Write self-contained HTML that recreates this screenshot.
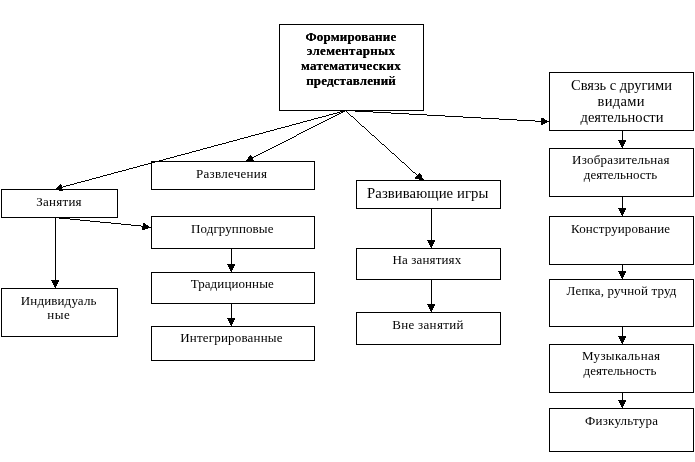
<!DOCTYPE html>
<html><head><meta charset="utf-8"><style>
html,body{margin:0;padding:0;background:#fff;}
body{width:695px;height:462px;overflow:hidden;position:relative;}
svg{position:absolute;left:0;top:0;will-change:transform;}
text{font-family:"Liberation Serif",serif;fill:#000;}
</style></head><body>
<svg width="695" height="462" viewBox="0 0 695 462">
<defs><filter id="th" x="0" y="0" width="100%" height="100%" color-interpolation-filters="sRGB"><feComponentTransfer><feFuncA type="table" tableValues="0 1"/></feComponentTransfer></filter><filter id="thb" x="0" y="0" width="100%" height="100%" color-interpolation-filters="sRGB"><feComponentTransfer><feFuncA type="table" tableValues="0 0.55 0.9 1"/></feComponentTransfer></filter></defs>

<rect x="279.5" y="24.5" width="144" height="86" fill="#fff" stroke="#000" stroke-width="1" shape-rendering="crispEdges"/>
<rect x="549.5" y="72.5" width="144" height="58" fill="#fff" stroke="#000" stroke-width="1" shape-rendering="crispEdges"/>
<rect x="549.5" y="148.5" width="144" height="48" fill="#fff" stroke="#000" stroke-width="1" shape-rendering="crispEdges"/>
<rect x="549.5" y="216.5" width="144" height="48" fill="#fff" stroke="#000" stroke-width="1" shape-rendering="crispEdges"/>
<rect x="549.5" y="279.5" width="144" height="47" fill="#fff" stroke="#000" stroke-width="1" shape-rendering="crispEdges"/>
<rect x="549.5" y="344.5" width="144" height="48" fill="#fff" stroke="#000" stroke-width="1" shape-rendering="crispEdges"/>
<rect x="549.5" y="408.5" width="144" height="43" fill="#fff" stroke="#000" stroke-width="1" shape-rendering="crispEdges"/>
<rect x="151.5" y="161.5" width="163" height="28" fill="#fff" stroke="#000" stroke-width="1" shape-rendering="crispEdges"/>
<rect x="1.5" y="189.5" width="116" height="28" fill="#fff" stroke="#000" stroke-width="1" shape-rendering="crispEdges"/>
<rect x="151.5" y="216.5" width="163" height="32" fill="#fff" stroke="#000" stroke-width="1" shape-rendering="crispEdges"/>
<rect x="151.5" y="272.5" width="163" height="31" fill="#fff" stroke="#000" stroke-width="1" shape-rendering="crispEdges"/>
<rect x="151.5" y="326.5" width="163" height="34" fill="#fff" stroke="#000" stroke-width="1" shape-rendering="crispEdges"/>
<rect x="1.5" y="288.5" width="116" height="48" fill="#fff" stroke="#000" stroke-width="1" shape-rendering="crispEdges"/>
<rect x="356.5" y="180.5" width="144" height="28" fill="#fff" stroke="#000" stroke-width="1" shape-rendering="crispEdges"/>
<rect x="356.5" y="248.5" width="144" height="31" fill="#fff" stroke="#000" stroke-width="1" shape-rendering="crispEdges"/>
<rect x="356.5" y="312.5" width="144" height="32" fill="#fff" stroke="#000" stroke-width="1" shape-rendering="crispEdges"/>
<path d="M63 186h1v1h-1zM64 186h1v1h-1zM65 186h1v1h-1zM66 185h1v1h-1zM67 185h1v1h-1zM68 185h1v1h-1zM69 185h1v1h-1zM70 184h1v1h-1zM71 184h1v1h-1zM72 184h1v1h-1zM73 184h1v1h-1zM74 183h1v1h-1zM75 183h1v1h-1zM76 183h1v1h-1zM77 182h1v1h-1zM78 182h1v1h-1zM79 182h1v1h-1zM80 182h1v1h-1zM81 181h1v1h-1zM82 181h1v1h-1zM83 181h1v1h-1zM84 181h1v1h-1zM85 180h1v1h-1zM86 180h1v1h-1zM87 180h1v1h-1zM88 180h1v1h-1zM89 179h1v1h-1zM90 179h1v1h-1zM91 179h1v1h-1zM92 178h1v1h-1zM93 178h1v1h-1zM94 178h1v1h-1zM95 178h1v1h-1zM96 177h1v1h-1zM97 177h1v1h-1zM98 177h1v1h-1zM99 177h1v1h-1zM100 176h1v1h-1zM101 176h1v1h-1zM102 176h1v1h-1zM103 175h1v1h-1zM104 175h1v1h-1zM105 175h1v1h-1zM106 175h1v1h-1zM107 174h1v1h-1zM108 174h1v1h-1zM109 174h1v1h-1zM110 174h1v1h-1zM111 173h1v1h-1zM112 173h1v1h-1zM113 173h1v1h-1zM114 172h1v1h-1zM115 172h1v1h-1zM116 172h1v1h-1zM117 172h1v1h-1zM118 171h1v1h-1zM119 171h1v1h-1zM120 171h1v1h-1zM121 171h1v1h-1zM122 170h1v1h-1zM123 170h1v1h-1zM124 170h1v1h-1zM125 170h1v1h-1zM126 169h1v1h-1zM127 169h1v1h-1zM128 169h1v1h-1zM129 168h1v1h-1zM130 168h1v1h-1zM131 168h1v1h-1zM132 168h1v1h-1zM133 167h1v1h-1zM134 167h1v1h-1zM135 167h1v1h-1zM136 167h1v1h-1zM137 166h1v1h-1zM138 166h1v1h-1zM139 166h1v1h-1zM140 165h1v1h-1zM141 165h1v1h-1zM142 165h1v1h-1zM143 165h1v1h-1zM144 164h1v1h-1zM145 164h1v1h-1zM146 164h1v1h-1zM147 164h1v1h-1zM148 163h1v1h-1zM149 163h1v1h-1zM150 163h1v1h-1zM151 163h1v1h-1zM152 162h1v1h-1zM153 162h1v1h-1zM154 162h1v1h-1zM155 161h1v1h-1zM156 161h1v1h-1zM157 161h1v1h-1zM158 161h1v1h-1zM159 160h1v1h-1zM160 160h1v1h-1zM161 160h1v1h-1zM162 160h1v1h-1zM163 159h1v1h-1zM164 159h1v1h-1zM165 159h1v1h-1zM166 158h1v1h-1zM167 158h1v1h-1zM168 158h1v1h-1zM169 158h1v1h-1zM170 157h1v1h-1zM171 157h1v1h-1zM172 157h1v1h-1zM173 157h1v1h-1zM174 156h1v1h-1zM175 156h1v1h-1zM176 156h1v1h-1zM177 155h1v1h-1zM178 155h1v1h-1zM179 155h1v1h-1zM180 155h1v1h-1zM181 154h1v1h-1zM182 154h1v1h-1zM183 154h1v1h-1zM184 154h1v1h-1zM185 153h1v1h-1zM186 153h1v1h-1zM187 153h1v1h-1zM188 153h1v1h-1zM189 152h1v1h-1zM190 152h1v1h-1zM191 152h1v1h-1zM192 151h1v1h-1zM193 151h1v1h-1zM194 151h1v1h-1zM195 151h1v1h-1zM196 150h1v1h-1zM197 150h1v1h-1zM198 150h1v1h-1zM199 150h1v1h-1zM200 149h1v1h-1zM201 149h1v1h-1zM202 149h1v1h-1zM203 148h1v1h-1zM204 148h1v1h-1zM205 148h1v1h-1zM206 148h1v1h-1zM207 147h1v1h-1zM208 147h1v1h-1zM209 147h1v1h-1zM210 147h1v1h-1zM211 146h1v1h-1zM212 146h1v1h-1zM213 146h1v1h-1zM214 145h1v1h-1zM215 145h1v1h-1zM216 145h1v1h-1zM217 145h1v1h-1zM218 144h1v1h-1zM219 144h1v1h-1zM220 144h1v1h-1zM221 144h1v1h-1zM222 143h1v1h-1zM223 143h1v1h-1zM224 143h1v1h-1zM225 143h1v1h-1zM226 142h1v1h-1zM227 142h1v1h-1zM228 142h1v1h-1zM229 141h1v1h-1zM230 141h1v1h-1zM231 141h1v1h-1zM232 141h1v1h-1zM233 140h1v1h-1zM234 140h1v1h-1zM235 140h1v1h-1zM236 140h1v1h-1zM237 139h1v1h-1zM238 139h1v1h-1zM239 139h1v1h-1zM240 138h1v1h-1zM241 138h1v1h-1zM242 138h1v1h-1zM243 138h1v1h-1zM244 137h1v1h-1zM245 137h1v1h-1zM246 137h1v1h-1zM247 137h1v1h-1zM248 136h1v1h-1zM249 136h1v1h-1zM250 136h1v1h-1zM251 135h1v1h-1zM252 135h1v1h-1zM253 135h1v1h-1zM254 135h1v1h-1zM255 134h1v1h-1zM256 134h1v1h-1zM257 134h1v1h-1zM258 134h1v1h-1zM259 133h1v1h-1zM260 133h1v1h-1zM261 133h1v1h-1zM262 133h1v1h-1zM263 132h1v1h-1zM264 132h1v1h-1zM265 132h1v1h-1zM266 131h1v1h-1zM267 131h1v1h-1zM268 131h1v1h-1zM269 131h1v1h-1zM270 130h1v1h-1zM271 130h1v1h-1zM272 130h1v1h-1zM273 130h1v1h-1zM274 129h1v1h-1zM275 129h1v1h-1zM276 129h1v1h-1zM277 128h1v1h-1zM278 128h1v1h-1zM279 128h1v1h-1zM280 128h1v1h-1zM281 127h1v1h-1zM282 127h1v1h-1zM283 127h1v1h-1zM284 127h1v1h-1zM285 126h1v1h-1zM286 126h1v1h-1zM287 126h1v1h-1zM288 126h1v1h-1zM289 125h1v1h-1zM290 125h1v1h-1zM291 125h1v1h-1zM292 124h1v1h-1zM293 124h1v1h-1zM294 124h1v1h-1zM295 124h1v1h-1zM296 123h1v1h-1zM297 123h1v1h-1zM298 123h1v1h-1zM299 123h1v1h-1zM300 122h1v1h-1zM301 122h1v1h-1zM302 122h1v1h-1zM303 121h1v1h-1zM304 121h1v1h-1zM305 121h1v1h-1zM306 121h1v1h-1zM307 120h1v1h-1zM308 120h1v1h-1zM309 120h1v1h-1zM310 120h1v1h-1zM311 119h1v1h-1zM312 119h1v1h-1zM313 119h1v1h-1zM314 118h1v1h-1zM315 118h1v1h-1zM316 118h1v1h-1zM317 118h1v1h-1zM318 117h1v1h-1zM319 117h1v1h-1zM320 117h1v1h-1zM321 117h1v1h-1zM322 116h1v1h-1zM323 116h1v1h-1zM324 116h1v1h-1zM325 116h1v1h-1zM326 115h1v1h-1zM327 115h1v1h-1zM328 115h1v1h-1zM329 114h1v1h-1zM330 114h1v1h-1zM331 114h1v1h-1zM332 114h1v1h-1zM333 113h1v1h-1zM334 113h1v1h-1zM335 113h1v1h-1zM336 113h1v1h-1zM337 112h1v1h-1zM338 112h1v1h-1zM339 112h1v1h-1zM340 111h1v1h-1zM341 111h1v1h-1zM342 111h1v1h-1zM343 111h1v1h-1zM344 110h1v1h-1zM345 110h1v1h-1z" fill="#000" shape-rendering="crispEdges"/>
<path d="M60 184h1v1h-1zM59 185h3v1h-3zM58 186h4v1h-4zM57 187h6v1h-6zM56 188h6v1h-6zM59 190h4v1h-4z" fill="#000" shape-rendering="crispEdges"/>
<path d="M252 157h1v1h-1zM253 157h1v1h-1zM254 156h1v1h-1zM255 156h1v1h-1zM256 155h1v1h-1zM257 155h1v1h-1zM258 154h1v1h-1zM259 154h1v1h-1zM260 153h1v1h-1zM261 153h1v1h-1zM262 152h1v1h-1zM263 152h1v1h-1zM264 151h1v1h-1zM265 151h1v1h-1zM266 150h1v1h-1zM267 150h1v1h-1zM268 149h1v1h-1zM269 149h1v1h-1zM270 148h1v1h-1zM271 148h1v1h-1zM272 147h1v1h-1zM273 147h1v1h-1zM274 146h1v1h-1zM275 146h1v1h-1zM276 145h1v1h-1zM277 145h1v1h-1zM278 144h1v1h-1zM279 144h1v1h-1zM280 143h1v1h-1zM281 143h1v1h-1zM282 142h1v1h-1zM283 142h1v1h-1zM284 141h1v1h-1zM285 141h1v1h-1zM286 140h1v1h-1zM287 140h1v1h-1zM288 139h1v1h-1zM289 139h1v1h-1zM290 138h1v1h-1zM291 138h1v1h-1zM292 137h1v1h-1zM293 137h1v1h-1zM294 136h1v1h-1zM295 136h1v1h-1zM296 135h1v1h-1zM297 134h1v1h-1zM298 134h1v1h-1zM299 133h1v1h-1zM300 133h1v1h-1zM301 132h1v1h-1zM302 132h1v1h-1zM303 131h1v1h-1zM304 131h1v1h-1zM305 130h1v1h-1zM306 130h1v1h-1zM307 129h1v1h-1zM308 129h1v1h-1zM309 128h1v1h-1zM310 128h1v1h-1zM311 127h1v1h-1zM312 127h1v1h-1zM313 126h1v1h-1zM314 126h1v1h-1zM315 125h1v1h-1zM316 125h1v1h-1zM317 124h1v1h-1zM318 124h1v1h-1zM319 123h1v1h-1zM320 123h1v1h-1zM321 122h1v1h-1zM322 122h1v1h-1zM323 121h1v1h-1zM324 121h1v1h-1zM325 120h1v1h-1zM326 120h1v1h-1zM327 119h1v1h-1zM328 119h1v1h-1zM329 118h1v1h-1zM330 118h1v1h-1zM331 117h1v1h-1zM332 117h1v1h-1zM333 116h1v1h-1zM334 116h1v1h-1zM335 115h1v1h-1zM336 115h1v1h-1zM337 114h1v1h-1zM338 114h1v1h-1zM339 113h1v1h-1zM340 113h1v1h-1zM341 112h1v1h-1zM342 112h1v1h-1zM343 111h1v1h-1zM344 111h1v1h-1zM345 110h1v1h-1z" fill="#000" shape-rendering="crispEdges"/>
<path d="M250 155h1v1h-1zM249 156h3v1h-3zM248 157h6v1h-6zM248 158h5v1h-5zM247 159h6v1h-6zM246 160h8v1h-8z" fill="#000" shape-rendering="crispEdges"/>
<path d="M345 110h1v1h-1zM346 111h1v1h-1zM347 112h1v1h-1zM348 113h1v1h-1zM349 114h1v1h-1zM350 115h1v1h-1zM351 116h1v1h-1zM352 116h1v1h-1zM353 117h1v1h-1zM354 118h1v1h-1zM355 119h1v1h-1zM356 120h1v1h-1zM357 121h1v1h-1zM358 122h1v1h-1zM359 123h1v1h-1zM360 124h1v1h-1zM361 125h1v1h-1zM362 126h1v1h-1zM363 126h1v1h-1zM364 127h1v1h-1zM365 128h1v1h-1zM366 129h1v1h-1zM367 130h1v1h-1zM368 131h1v1h-1zM369 132h1v1h-1zM370 133h1v1h-1zM371 134h1v1h-1zM372 135h1v1h-1zM373 135h1v1h-1zM374 136h1v1h-1zM375 137h1v1h-1zM376 138h1v1h-1zM377 139h1v1h-1zM378 140h1v1h-1zM379 141h1v1h-1zM380 142h1v1h-1zM381 143h1v1h-1zM382 144h1v1h-1zM383 144h1v1h-1zM384 145h1v1h-1zM385 146h1v1h-1zM386 147h1v1h-1zM387 148h1v1h-1zM388 149h1v1h-1zM389 150h1v1h-1zM390 151h1v1h-1zM391 152h1v1h-1zM392 153h1v1h-1zM393 153h1v1h-1zM394 154h1v1h-1zM395 155h1v1h-1zM396 156h1v1h-1zM397 157h1v1h-1zM398 158h1v1h-1zM399 159h1v1h-1zM400 160h1v1h-1zM401 161h1v1h-1zM402 162h1v1h-1zM403 162h1v1h-1zM404 163h1v1h-1zM405 164h1v1h-1zM406 165h1v1h-1zM407 166h1v1h-1zM408 167h1v1h-1zM409 168h1v1h-1zM410 169h1v1h-1zM411 170h1v1h-1zM412 171h1v1h-1zM413 172h1v1h-1zM414 172h1v1h-1zM415 173h1v1h-1zM416 174h1v1h-1z" fill="#000" shape-rendering="crispEdges"/>
<path d="M419 173h1v1h-1zM418 174h3v1h-3zM417 175h5v1h-5zM416 176h6v1h-6zM415 177h7v1h-7zM415 178h8v1h-8zM419 179h5v1h-5z" fill="#000" shape-rendering="crispEdges"/>
<path d="M347 110h1v1h-1zM348 110h1v1h-1zM349 110h1v1h-1zM350 110h1v1h-1zM351 110h1v1h-1zM352 110h1v1h-1zM353 110h1v1h-1zM354 110h1v1h-1zM355 111h1v1h-1zM356 111h1v1h-1zM357 111h1v1h-1zM358 111h1v1h-1zM359 111h1v1h-1zM360 111h1v1h-1zM361 111h1v1h-1zM362 111h1v1h-1zM363 111h1v1h-1zM364 111h1v1h-1zM365 111h1v1h-1zM366 111h1v1h-1zM367 111h1v1h-1zM368 111h1v1h-1zM369 111h1v1h-1zM370 111h1v1h-1zM371 111h1v1h-1zM372 111h1v1h-1zM373 112h1v1h-1zM374 112h1v1h-1zM375 112h1v1h-1zM376 112h1v1h-1zM377 112h1v1h-1zM378 112h1v1h-1zM379 112h1v1h-1zM380 112h1v1h-1zM381 112h1v1h-1zM382 112h1v1h-1zM383 112h1v1h-1zM384 112h1v1h-1zM385 112h1v1h-1zM386 112h1v1h-1zM387 112h1v1h-1zM388 112h1v1h-1zM389 112h1v1h-1zM390 112h1v1h-1zM391 113h1v1h-1zM392 113h1v1h-1zM393 113h1v1h-1zM394 113h1v1h-1zM395 113h1v1h-1zM396 113h1v1h-1zM397 113h1v1h-1zM398 113h1v1h-1zM399 113h1v1h-1zM400 113h1v1h-1zM401 113h1v1h-1zM402 113h1v1h-1zM403 113h1v1h-1zM404 113h1v1h-1zM405 113h1v1h-1zM406 113h1v1h-1zM407 113h1v1h-1zM408 113h1v1h-1zM409 114h1v1h-1zM410 114h1v1h-1zM411 114h1v1h-1zM412 114h1v1h-1zM413 114h1v1h-1zM414 114h1v1h-1zM415 114h1v1h-1zM416 114h1v1h-1zM417 114h1v1h-1zM418 114h1v1h-1zM419 114h1v1h-1zM420 114h1v1h-1zM421 114h1v1h-1zM422 114h1v1h-1zM423 114h1v1h-1zM424 114h1v1h-1zM425 114h1v1h-1zM426 114h1v1h-1zM427 115h1v1h-1zM428 115h1v1h-1zM429 115h1v1h-1zM430 115h1v1h-1zM431 115h1v1h-1zM432 115h1v1h-1zM433 115h1v1h-1zM434 115h1v1h-1zM435 115h1v1h-1zM436 115h1v1h-1zM437 115h1v1h-1zM438 115h1v1h-1zM439 115h1v1h-1zM440 115h1v1h-1zM441 115h1v1h-1zM442 115h1v1h-1zM443 115h1v1h-1zM444 115h1v1h-1zM445 116h1v1h-1zM446 116h1v1h-1zM447 116h1v1h-1zM448 116h1v1h-1zM449 116h1v1h-1zM450 116h1v1h-1zM451 116h1v1h-1zM452 116h1v1h-1zM453 116h1v1h-1zM454 116h1v1h-1zM455 116h1v1h-1zM456 116h1v1h-1zM457 116h1v1h-1zM458 116h1v1h-1zM459 116h1v1h-1zM460 116h1v1h-1zM461 116h1v1h-1zM462 116h1v1h-1zM463 117h1v1h-1zM464 117h1v1h-1zM465 117h1v1h-1zM466 117h1v1h-1zM467 117h1v1h-1zM468 117h1v1h-1zM469 117h1v1h-1zM470 117h1v1h-1zM471 117h1v1h-1zM472 117h1v1h-1zM473 117h1v1h-1zM474 117h1v1h-1zM475 117h1v1h-1zM476 117h1v1h-1zM477 117h1v1h-1zM478 117h1v1h-1zM479 117h1v1h-1zM480 117h1v1h-1zM481 118h1v1h-1zM482 118h1v1h-1zM483 118h1v1h-1zM484 118h1v1h-1zM485 118h1v1h-1zM486 118h1v1h-1zM487 118h1v1h-1zM488 118h1v1h-1zM489 118h1v1h-1zM490 118h1v1h-1zM491 118h1v1h-1zM492 118h1v1h-1zM493 118h1v1h-1zM494 118h1v1h-1zM495 118h1v1h-1zM496 118h1v1h-1zM497 118h1v1h-1zM498 118h1v1h-1zM499 119h1v1h-1zM500 119h1v1h-1zM501 119h1v1h-1zM502 119h1v1h-1zM503 119h1v1h-1zM504 119h1v1h-1zM505 119h1v1h-1zM506 119h1v1h-1zM507 119h1v1h-1zM508 119h1v1h-1zM509 119h1v1h-1zM510 119h1v1h-1zM511 119h1v1h-1zM512 119h1v1h-1zM513 119h1v1h-1zM514 119h1v1h-1zM515 119h1v1h-1zM516 119h1v1h-1zM517 120h1v1h-1zM518 120h1v1h-1zM519 120h1v1h-1zM520 120h1v1h-1zM521 120h1v1h-1zM522 120h1v1h-1zM523 120h1v1h-1zM524 120h1v1h-1zM525 120h1v1h-1zM526 120h1v1h-1zM527 120h1v1h-1zM528 120h1v1h-1zM529 120h1v1h-1zM530 120h1v1h-1zM531 120h1v1h-1zM532 120h1v1h-1zM533 120h1v1h-1zM534 120h1v1h-1zM535 121h1v1h-1zM536 121h1v1h-1zM537 121h1v1h-1zM538 121h1v1h-1zM539 121h1v1h-1zM540 121h1v1h-1zM541 121h1v1h-1zM542 121h1v1h-1zM543 121h1v1h-1z" fill="#000" shape-rendering="crispEdges"/>
<path d="M541 118h3v1h-3zM541 119h4v1h-4zM541 120h6v1h-6zM541 121h8v1h-8zM541 122h6v1h-6zM541 123h4v1h-4zM541 124h2v1h-2z" fill="#000" shape-rendering="crispEdges"/>
<path d="M58 217h1v1h-1zM59 218h1v1h-1zM60 218h1v1h-1zM61 218h1v1h-1zM62 218h1v1h-1zM63 218h1v1h-1zM64 218h1v1h-1zM65 218h1v1h-1zM66 218h1v1h-1zM67 218h1v1h-1zM68 218h1v1h-1zM69 218h1v1h-1zM70 219h1v1h-1zM71 219h1v1h-1zM72 219h1v1h-1zM73 219h1v1h-1zM74 219h1v1h-1zM75 219h1v1h-1zM76 219h1v1h-1zM77 219h1v1h-1zM78 219h1v1h-1zM79 219h1v1h-1zM80 220h1v1h-1zM81 220h1v1h-1zM82 220h1v1h-1zM83 220h1v1h-1zM84 220h1v1h-1zM85 220h1v1h-1zM86 220h1v1h-1zM87 220h1v1h-1zM88 220h1v1h-1zM89 220h1v1h-1zM90 221h1v1h-1zM91 221h1v1h-1zM92 221h1v1h-1zM93 221h1v1h-1zM94 221h1v1h-1zM95 221h1v1h-1zM96 221h1v1h-1zM97 221h1v1h-1zM98 221h1v1h-1zM99 221h1v1h-1zM100 222h1v1h-1zM101 222h1v1h-1zM102 222h1v1h-1zM103 222h1v1h-1zM104 222h1v1h-1zM105 222h1v1h-1zM106 222h1v1h-1zM107 222h1v1h-1zM108 222h1v1h-1zM109 222h1v1h-1zM110 222h1v1h-1zM111 223h1v1h-1zM112 223h1v1h-1zM113 223h1v1h-1zM114 223h1v1h-1zM115 223h1v1h-1zM116 223h1v1h-1zM117 223h1v1h-1zM118 223h1v1h-1zM119 223h1v1h-1zM120 223h1v1h-1zM121 224h1v1h-1zM122 224h1v1h-1zM123 224h1v1h-1zM124 224h1v1h-1zM125 224h1v1h-1zM126 224h1v1h-1zM127 224h1v1h-1zM128 224h1v1h-1zM129 224h1v1h-1zM130 224h1v1h-1zM131 225h1v1h-1zM132 225h1v1h-1zM133 225h1v1h-1zM134 225h1v1h-1zM135 225h1v1h-1zM136 225h1v1h-1zM137 225h1v1h-1zM138 225h1v1h-1zM139 225h1v1h-1zM140 225h1v1h-1zM141 226h1v1h-1zM142 226h1v1h-1zM143 226h1v1h-1zM144 226h1v1h-1zM145 226h1v1h-1z" fill="#000" shape-rendering="crispEdges"/>
<path d="M143 223h2v1h-2zM143 224h3v1h-3zM143 225h5v1h-5zM143 226h6v1h-6zM142 227h9v1h-9zM142 228h6v1h-6zM142 229h3v1h-3z" fill="#000" shape-rendering="crispEdges"/>
<rect x="55.0" y="217.0" width="1" height="65.0" fill="#000" shape-rendering="crispEdges"/>
<path d="M51 280h8v1h-8z M52 281h7v1h-7z M52 282h6v1h-6z M53 283h5v1h-5z M53 284h4v1h-4z M54 285h3v1h-3z M54 286h2v1h-2z M55 287h1v1h-1z" fill="#000" shape-rendering="crispEdges"/>
<rect x="231.0" y="248.0" width="1" height="18.0" fill="#000" shape-rendering="crispEdges"/>
<path d="M227 264h8v1h-8z M228 265h7v1h-7z M228 266h6v1h-6z M229 267h5v1h-5z M229 268h4v1h-4z M230 269h3v1h-3z M230 270h2v1h-2z M231 271h1v1h-1z" fill="#000" shape-rendering="crispEdges"/>
<rect x="231.0" y="303.0" width="1" height="17.0" fill="#000" shape-rendering="crispEdges"/>
<path d="M227 318h8v1h-8z M228 319h7v1h-7z M228 320h6v1h-6z M229 321h5v1h-5z M229 322h4v1h-4z M230 323h3v1h-3z M230 324h2v1h-2z M231 325h1v1h-1z" fill="#000" shape-rendering="crispEdges"/>
<rect x="431.0" y="208.0" width="1" height="34.0" fill="#000" shape-rendering="crispEdges"/>
<path d="M427 240h8v1h-8z M428 241h7v1h-7z M428 242h6v1h-6z M429 243h5v1h-5z M429 244h4v1h-4z M430 245h3v1h-3z M430 246h2v1h-2z M431 247h1v1h-1z" fill="#000" shape-rendering="crispEdges"/>
<rect x="431.0" y="279.0" width="1" height="27.0" fill="#000" shape-rendering="crispEdges"/>
<path d="M427 304h8v1h-8z M428 305h7v1h-7z M428 306h6v1h-6z M429 307h5v1h-5z M429 308h4v1h-4z M430 309h3v1h-3z M430 310h2v1h-2z M431 311h1v1h-1z" fill="#000" shape-rendering="crispEdges"/>
<rect x="622.0" y="130.0" width="1" height="12.0" fill="#000" shape-rendering="crispEdges"/>
<path d="M618 140h8v1h-8z M619 141h7v1h-7z M619 142h6v1h-6z M620 143h5v1h-5z M620 144h4v1h-4z M621 145h3v1h-3z M621 146h2v1h-2z M622 147h1v1h-1z" fill="#000" shape-rendering="crispEdges"/>
<rect x="622.0" y="196.0" width="1" height="14.0" fill="#000" shape-rendering="crispEdges"/>
<path d="M618 208h8v1h-8z M619 209h7v1h-7z M619 210h6v1h-6z M620 211h5v1h-5z M620 212h4v1h-4z M621 213h3v1h-3z M621 214h2v1h-2z M622 215h1v1h-1z" fill="#000" shape-rendering="crispEdges"/>
<rect x="622.0" y="264.0" width="1" height="9.0" fill="#000" shape-rendering="crispEdges"/>
<path d="M618 271h8v1h-8z M619 272h7v1h-7z M619 273h6v1h-6z M620 274h5v1h-5z M620 275h4v1h-4z M621 276h3v1h-3z M621 277h2v1h-2z M622 278h1v1h-1z" fill="#000" shape-rendering="crispEdges"/>
<rect x="622.0" y="326.0" width="1" height="12.0" fill="#000" shape-rendering="crispEdges"/>
<path d="M618 336h8v1h-8z M619 337h7v1h-7z M619 338h6v1h-6z M620 339h5v1h-5z M620 340h4v1h-4z M621 341h3v1h-3z M621 342h2v1h-2z M622 343h1v1h-1z" fill="#000" shape-rendering="crispEdges"/>
<rect x="622.0" y="392.0" width="1" height="10.0" fill="#000" shape-rendering="crispEdges"/>
<path d="M618 400h8v1h-8z M619 401h7v1h-7z M619 402h6v1h-6z M620 403h5v1h-5z M620 404h4v1h-4z M621 405h3v1h-3z M621 406h2v1h-2z M622 407h1v1h-1z" fill="#000" shape-rendering="crispEdges"/>
<g filter="url(#th)">
<text x="621.50" y="89.7" font-size="14.5" text-anchor="middle" textLength="101.0" lengthAdjust="spacing">Связь с другими</text>
<text x="621.00" y="106.4" font-size="14.5" text-anchor="middle" textLength="46.9" lengthAdjust="spacing">видами</text>
<text x="622.00" y="122" font-size="14.5" text-anchor="middle" textLength="82.8" lengthAdjust="spacing">деятельности</text>
<text x="620.80" y="164.2" font-size="13" text-anchor="middle" textLength="97.4" lengthAdjust="spacing">Изобразительная</text>
<text x="620.50" y="178.9" font-size="13" text-anchor="middle" textLength="73.4" lengthAdjust="spacing">деятельность</text>
<text x="620.50" y="233.2" font-size="13" text-anchor="middle" textLength="99.0" lengthAdjust="spacing">Конструирование</text>
<text x="621.50" y="295.2" font-size="13" text-anchor="middle" textLength="109.8" lengthAdjust="spacing">Лепка, ручной труд</text>
<text x="621.00" y="359.8" font-size="13" text-anchor="middle" textLength="78.0" lengthAdjust="spacing">Музыкальная</text>
<text x="620.00" y="375.2" font-size="13" text-anchor="middle" textLength="72.8" lengthAdjust="spacing">деятельность</text>
<text x="621.50" y="425.1" font-size="13" text-anchor="middle" textLength="73.0" lengthAdjust="spacing">Физкультура</text>
<text x="231.50" y="178.2" font-size="13" text-anchor="middle" textLength="71.2" lengthAdjust="spacing">Развлечения</text>
<text x="58.90" y="206" font-size="13" text-anchor="middle" textLength="45.4" lengthAdjust="spacing">Занятия</text>
<text x="232.20" y="233.4" font-size="13" text-anchor="middle" textLength="82.5" lengthAdjust="spacing">Подгрупповые</text>
<text x="232.20" y="288.4" font-size="13" text-anchor="middle" textLength="83.1" lengthAdjust="spacing">Традиционные</text>
<text x="231.40" y="342.2" font-size="13" text-anchor="middle" textLength="102.2" lengthAdjust="spacing">Интегрированные</text>
<text x="58.60" y="305.0" font-size="13" text-anchor="middle" textLength="75.7" lengthAdjust="spacing">Индивидуаль</text>
<text x="58.50" y="318.7" font-size="13" text-anchor="middle" textLength="22.5" lengthAdjust="spacing">ные</text>
<text x="427.70" y="198" font-size="14.7" text-anchor="middle" textLength="121.2" lengthAdjust="spacing">Развивающие игры</text>
<text x="426.80" y="264.1" font-size="13" text-anchor="middle" textLength="68.8" lengthAdjust="spacing">На занятиях</text>
<text x="427.80" y="329.2" font-size="13" text-anchor="middle" textLength="71.2" lengthAdjust="spacing">Вне занятий</text>
</g>
<g filter="url(#thb)">
<text x="350.80" y="40.9" font-size="13" font-weight="bold" text-anchor="middle" textLength="90.8" lengthAdjust="spacing">Формирование</text>
<text x="350.90" y="54.7" font-size="13" font-weight="bold" text-anchor="middle" textLength="88.1" lengthAdjust="spacing">элементарных</text>
<text x="350.90" y="69.6" font-size="13" font-weight="bold" text-anchor="middle" textLength="99.6" lengthAdjust="spacing">математических</text>
<text x="351.00" y="84.5" font-size="13" font-weight="bold" text-anchor="middle" textLength="89.6" lengthAdjust="spacing">представлений</text>
</g>
</svg>
</body></html>
